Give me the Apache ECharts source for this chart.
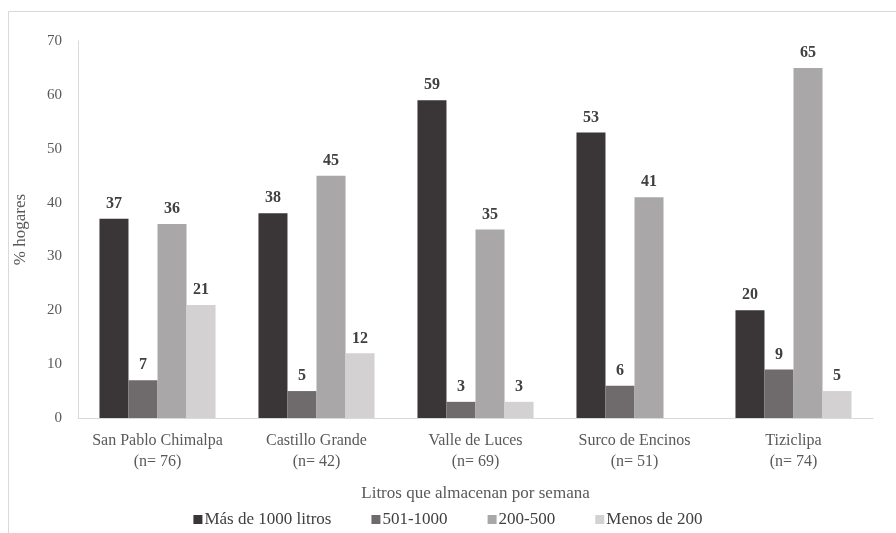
<!DOCTYPE html>
<html><head><meta charset="utf-8">
<script src="https://cdn.jsdelivr.net/npm/echarts@6/dist/echarts.min.js"></script>
<style>html,body{margin:0;padding:0;background:#fff}#c{width:896px;height:533px}</style>
</head><body><div id="c"></div>
<script>
const categories = ['San Pablo Chimalpa\n(n= 76)', 'Castillo Grande\n(n= 42)', 'Valle de Luces\n(n= 69)', 'Surco de Encinos\n(n= 51)', 'Tiziclipa\n(n= 74)'];
const seriesNames = ['Más de 1000 litros', '501-1000', '200-500', 'Menos de 200'];
const mas1000 = [37, 38, 59, 53, 20];
const s501_1000 = [7, 5, 3, 6, 9];
const s200_500 = [36, 45, 35, 41, 65];
const menos200 = [21, 12, 3, null, 5];
const yTicks = [0, 10, 20, 30, 40, 50, 60, 70];

const colors = ['#3a3536', '#6f6a6b', '#a9a7a8', '#d3d1d1'];
const font = 'Liberation Serif';
const values = [mas1000, s501_1000, s200_500, menos200];

const chart = echarts.init(document.getElementById('c'));
chart.setOption({
  animation: false,
  textStyle: { fontFamily: font },
  graphic: [{ type: 'rect', shape: { x: 8.5, y: 11.5, width: 895, height: 530 }, style: { fill: 'none', stroke: '#d9d9d9', lineWidth: 1 } }],
  grid: { left: 78, right: 23, top: 41, bottom: 115 },
  legend: {
    bottom: 0, left: 'center', itemWidth: 9, itemHeight: 9, itemGap: 40,
    icon: 'rect',
    textStyle: { fontFamily: font, fontSize: 17, color: '#404040', padding: [0, 0, 0, -3] },
    data: seriesNames
  },
  xAxis: {
    type: 'category', data: categories,
    name: 'Litros que almacenan por semana', nameLocation: 'middle', nameGap: 67,
    nameTextStyle: { fontFamily: font, fontSize: 17, color: '#595959' },
    axisLine: { lineStyle: { color: '#d9d9d9', width: 1 } },
    axisTick: { show: false },
    axisLabel: { interval: 0, hideOverlap: false, fontFamily: font, fontSize: 16, color: '#595959', lineHeight: 21, margin: 12 }
  },
  yAxis: {
    type: 'value', min: 0, max: 70, interval: 10,
    name: '% hogares', nameLocation: 'middle', nameGap: 49, nameRotate: 90,
    nameTextStyle: { fontFamily: font, fontSize: 17, color: '#595959' },
    axisLine: { show: true, lineStyle: { color: '#d9d9d9', width: 1 } },
    axisTick: { show: false },
    splitLine: { show: false },
    axisLabel: { fontFamily: font, fontSize: 15, color: '#595959', margin: 16,
      formatter: v => yTicks.includes(v) ? String(v) : '' }
  },
  series: values.map((d, i) => ({
    name: seriesNames[i], type: 'bar', data: d,
    barGap: '0%', barCategoryGap: '27%',
    itemStyle: { color: colors[i] },
    label: { show: true, position: 'top', distance: 7, fontFamily: font, fontSize: 16, fontWeight: 'bold', color: '#404040' }
  }))
});
</script></body></html>
